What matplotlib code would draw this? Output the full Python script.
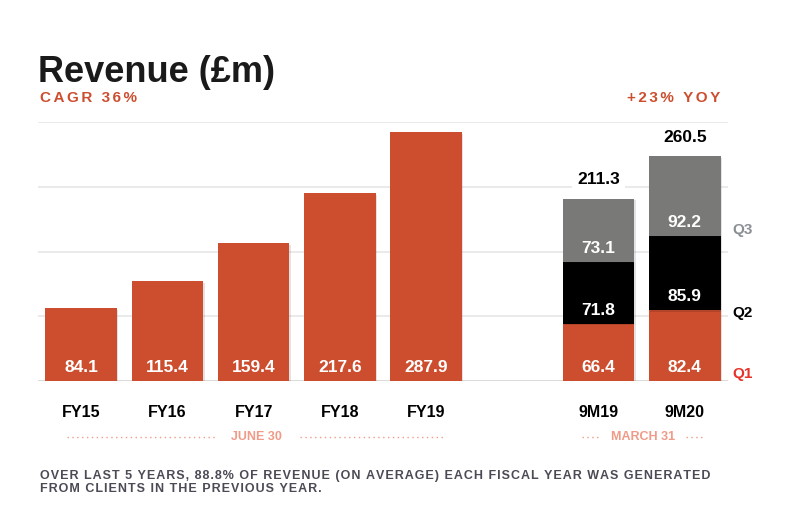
import numpy as np
import matplotlib.pyplot as plt
from matplotlib.lines import Line2D
import matplotlib.patheffects as pe

plt.rcParams['font.family'] = ['Liberation Sans', 'DejaVu Sans']

# data
fy_labels = ['FY15', 'FY16', 'FY17', 'FY18', 'FY19']
fy_values = [84.1, 115.4, 159.4, 217.6, 287.9]
nm_labels = ['9M19', '9M20']
q1 = [66.4, 82.4]
q2 = [71.8, 85.9]
q3 = [73.1, 92.2]
nm_totals = [211.3, 260.5]

RED = '#cc4e2f'
GRAY = '#797a78'
SALMON = '#f09a88'


def spaced(s, n=1):
    # fake letter spacing with hair spaces
    return ('\u200a' * n).join(s)


W, H = 800, 523
fig = plt.figure(figsize=(8, 5.23), dpi=100)
# axes placed in pixels: x 38..728, baseline y=381, top gridline y=122
ax = fig.add_axes([38 / W, (H - 381) / H, (728 - 38) / W, (381 - 122) / H])
ax.set_xlim(-0.5, 7.5)
ax.set_ylim(0, 300)

shadow = [pe.SimplePatchShadow(offset=(1, -1.2), alpha=0.12), pe.Normal()]

fy_x = np.arange(len(fy_values))
nm_x = np.array([6, 7])
bw = 0.83

bars = ax.bar(fy_x, fy_values, width=bw, color=RED, zorder=3)
for b in bars:
    b.set_path_effects(shadow)
b1 = ax.bar(nm_x, q1, width=bw, color=RED, zorder=3)
b2 = ax.bar(nm_x, q2, bottom=q1, width=bw, color='black', zorder=3)
bot3 = np.array(q1) + np.array(q2)
b3 = ax.bar(nm_x, q3, bottom=bot3, width=bw, color=GRAY, zorder=3)
for bs in (b1, b2, b3):
    for b in bs:
        b.set_path_effects(shadow)

lab_kw = dict(ha='center', va='center', color='white', fontsize=12.5,
              fontweight='bold', zorder=5)
for x, v in zip(fy_x, fy_values):
    ax.text(x, 16, f'{v:.1f}', **lab_kw)
for i, x in enumerate(nm_x):
    ax.text(x, 16, f'{q1[i]:.1f}', **lab_kw)
    ax.text(x, q1[i] + 15, f'{q2[i]:.1f}', **lab_kw)
    ax.text(x, bot3[i] + 15, f'{q3[i]:.1f}', **lab_kw)
    ax.text(x, nm_totals[i] + 22, f'{nm_totals[i]:.1f}', ha='center', va='center',
            fontsize=12.5, fontweight='bold', color='black', zorder=5,
            bbox=dict(boxstyle='square,pad=0.3', fc='white', ec='none'))

# quarter labels
ax.text(7.55, 8, 'Q1', color='#e8322a', fontsize=11, fontweight='bold', va='center', clip_on=False)
ax.text(7.55, 79, 'Q2', color='black', fontsize=11, fontweight='bold', va='center', clip_on=False)
ax.text(7.55, 175, 'Q3', color='#8a8f94', fontsize=11, fontweight='bold', va='center', clip_on=False)

ax.set_yticks([0, 75, 150, 225, 300])
ax.yaxis.grid(True, color='#e6e6e6', linewidth=1.2, zorder=0)
ax.set_axisbelow(True)
ax.tick_params(left=False, labelleft=False, bottom=False)
ax.set_xticks(list(fy_x) + list(nm_x))
ax.set_xticklabels(fy_labels + nm_labels, fontsize=11.5, fontweight='bold')
ax.tick_params(axis='x', pad=14)
for s in ax.spines.values():
    s.set_visible(False)
ax.axhline(0, color='#d8d8d8', linewidth=1.2, zorder=1)

# titles
fig.text(38 / W, 1 - 72 / H, 'Revenue (£m)', fontsize=26, fontweight='bold',
         color='#1a1a1a', va='center')
fig.text(40 / W, 1 - 98 / H, spaced('CAGR 36%', 2), fontsize=11, fontweight='bold',
         color=RED, va='center')
fig.text(720 / W, 1 - 98 / H, spaced('+23% YOY', 2), fontsize=11, fontweight='bold',
         color=RED, va='center', ha='right')

# date rows
yd = 1 - 437 / H
for x0, x1 in [(67, 215), (300, 445), (582, 600), (686, 703)]:
    fig.add_artist(Line2D([x0 / W, x1 / W], [yd, yd], color=SALMON,
                          linestyle=(0, (1, 2.5)), linewidth=1))
fig.text(256 / W, yd, 'JUNE 30', fontsize=9, fontweight='bold', color=SALMON,
         ha='center', va='center')
fig.text(643 / W, yd, 'MARCH 31', fontsize=9, fontweight='bold', color=SALMON,
         ha='center', va='center')

note1 = 'OVER LAST 5 YEARS, 88.8% OF REVENUE (ON AVERAGE) EACH FISCAL YEAR WAS GENERATED'
note2 = 'FROM CLIENTS IN THE PREVIOUS YEAR.'
fig.text(40 / W, 1 - 476 / H, spaced(note1), fontsize=9, fontweight='bold',
         color='#4a4b55', va='center')
fig.text(40 / W, 1 - 489 / H, spaced(note2), fontsize=9, fontweight='bold',
         color='#4a4b55', va='center')

fig.savefig('out.png', dpi=100)
